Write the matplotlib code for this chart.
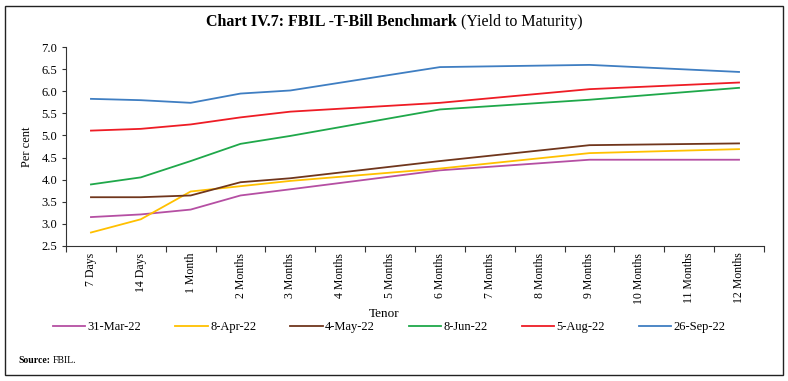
import matplotlib
matplotlib.use("Agg")
import matplotlib.pyplot as plt
from matplotlib.patches import Rectangle
import numpy as np

plt.rcParams["font.family"] = ["Liberation Serif", "DejaVu Serif"]

# tenors on the axis
tenors = ["7 Days", "14 Days", "1 Month", "2 Months", "3 Months", "4 Months",
          "5 Months", "6 Months", "7 Months", "8 Months", "9 Months",
          "10 Months", "11 Months", "12 Months"]
# tenors that actually have a benchmark value
data_tenors = ["7 Days", "14 Days", "1 Month", "2 Months", "3 Months",
               "6 Months", "9 Months", "12 Months"]

mar31 = [3.15, 3.21, 3.32, 3.64, 3.78, 4.21, 4.45, 4.45]
apr08 = [2.80, 3.10, 3.73, 3.85, 3.97, 4.25, 4.60, 4.69]
may04 = [3.60, 3.60, 3.64, 3.94, 4.03, 4.42, 4.78, 4.82]
jun08 = [3.89, 4.05, 4.42, 4.81, 4.99, 5.59, 5.81, 6.08]
aug05 = [5.11, 5.15, 5.25, 5.41, 5.54, 5.74, 6.05, 6.20]
sep26 = [5.83, 5.80, 5.74, 5.95, 6.02, 6.55, 6.60, 6.44]

series = [("31-Mar-22", mar31, "#B54FA3"),
          ("8-Apr-22", apr08, "#FFC000"),
          ("4-May-22", may04, "#70361C"),
          ("8-Jun-22", jun08, "#1FA84A"),
          ("5-Aug-22", aug05, "#EE1C25"),
          ("26-Sep-22", sep26, "#3F7EC2")]

fig = plt.figure(figsize=(7.88, 3.81), dpi=100)
ax = fig.add_axes([0.0838, 0.355, 0.8857, 0.521])

x = [tenors.index(t) for t in data_tenors]
for name, vals, col in series:
    ax.plot(x, vals, color=col, lw=1.3, label=name)

ax.set_xlim(-0.5, len(tenors) - 0.5)
ax.set_ylim(2.5, 7.0)
ax.set_yticks(np.arange(2.5, 7.01, 0.5))
ax.set_yticklabels([f"{v:.1f}" for v in np.arange(2.5, 7.01, 0.5)])
ax.set_xticks(np.arange(-0.5, len(tenors), 1.0))
ax.set_xticklabels([])
ax.set_xticks(range(len(tenors)), minor=True)
ax.set_xticklabels(tenors, minor=True, rotation=90)
ax.tick_params(axis="x", which="major", direction="out", length=4, color="#333333")
ax.tick_params(axis="x", which="minor", length=0, labelsize=8.5, pad=5)
ax.tick_params(axis="y", direction="out", length=3, labelsize=9, color="#333333")
for s in ["top", "right"]:
    ax.spines[s].set_visible(False)
for s in ["left", "bottom"]:
    ax.spines[s].set_color("#333333")
    ax.spines[s].set_linewidth(0.8)

ax.set_ylabel("Per cent", fontsize=9, labelpad=6)
fig.text(0.487, 0.176, "Tenor", fontsize=9.5, ha="center", va="center")

fig.legend(loc="center", bbox_to_anchor=(0.494, 0.142), ncol=6, frameon=False,
           fontsize=9, handlelength=2.6, handletextpad=0.2, columnspacing=2.7)

# title: bold part + regular part
fig.canvas.draw()
r = fig.canvas.get_renderer()
t1 = fig.text(0.5, 0.942, "Chart IV.7: FBIL -T-Bill Benchmark ", fontsize=11.5,
              fontweight="bold", ha="left", va="center")
t2 = fig.text(0.5, 0.942, "(Yield to Maturity)", fontsize=11.5, ha="left", va="center")
w1 = t1.get_window_extent(r).width
w2 = t2.get_window_extent(r).width
x0 = (788 - (w1 + w2)) / 2 / 788
t1.set_x(x0)
t2.set_x(x0 + w1 / 788)

s1 = fig.text(0.023, 0.055, "Source:", fontsize=7, fontweight="bold", ha="left", va="center")
ws = s1.get_window_extent(r).width
fig.text(0.023 + (ws + 3) / 788, 0.055, "FBIL.", fontsize=7, ha="left", va="center")

fig.patches.append(Rectangle((0.006, 0.016), 0.988, 0.968, transform=fig.transFigure,
                             fill=False, edgecolor="#222222", lw=1.0))

fig.savefig("out.png", dpi=100)
